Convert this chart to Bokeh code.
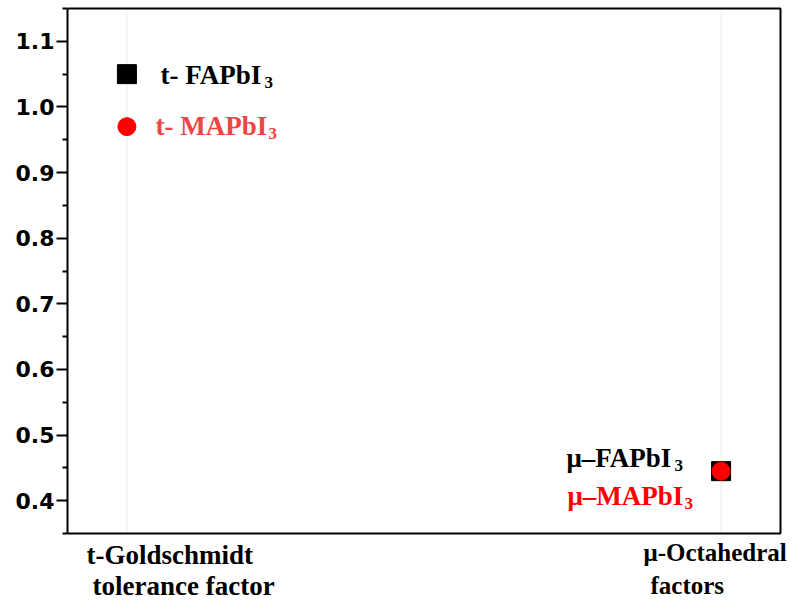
from bokeh.plotting import figure
from bokeh.models import FixedTicker, Label, Range1d, NumeralTickFormatter, ColumnDataSource
from bokeh.embed import file_html
from bokeh.resources import INLINE

# Structural parameters of the two perovskites
factor_pos = [1, 2]                      # 1: tolerance factor, 2: octahedral factor
fapbi3_values = [1.05, 0.445]
mapbi3_values = [0.97, 0.445]
y_ticks = [0.4, 0.5, 0.6, 0.7, 0.8, 0.9, 1.0, 1.1]
y_minor = [0.35, 0.45, 0.55, 0.65, 0.75, 0.85, 0.95, 1.05, 1.15]
factor_names = [["t-Goldschmidt", "tolerance factor"], ["\u03bc-Octahedral", "factors"]]

W, H = 792, 600
# axes box in pixels (left, right, top, bottom) and its data extent
BOX_L, BOX_R, BOX_T, BOX_B = 67, 780, 8, 533
XB0, XB1 = 0.9, 2.1
YB0, YB1 = 0.35, 1.15
# the plotting frame extends to the page edges so the factor names fit inside it
FR_L, FR_R, FR_T, FR_B = 67, 792, 4, 600
# Label baselines land a little below the anchor; lift them by this much
LIFT = 8

sx = (XB1 - XB0) / (BOX_R - BOX_L)
sy = (YB1 - YB0) / (BOX_B - BOX_T)


def dx(px):
    return XB0 + (px - BOX_L) * sx


def dy(py):
    return YB0 + (BOX_B - py) * sy


p = figure(width=W, height=H, output_backend="svg", toolbar_location=None,
           x_range=Range1d(dx(FR_L), dx(FR_R)), y_range=Range1d(dy(FR_B), dy(FR_T)),
           min_border_left=FR_L, min_border_right=W - FR_R, min_border_top=FR_T,
           min_border_bottom=H - FR_B)
p.background_fill_color = "white"
p.border_fill_color = "white"
p.outline_line_color = None
p.xgrid.visible = False
p.ygrid.visible = False
p.xaxis.visible = False

yax = p.yaxis[0]
yax.bounds = (YB0, YB1)
yax.ticker = FixedTicker(ticks=y_ticks, minor_ticks=y_minor)
yax.formatter = NumeralTickFormatter(format="0.0")
yax.axis_line_width = 2
yax.major_tick_line_width = 2
yax.minor_tick_line_width = 2
yax.major_tick_out = 11
yax.major_tick_in = 0
yax.minor_tick_out = 5
yax.minor_tick_in = 0
yax.major_label_standoff = 2
yax.major_label_text_font = "DejaVu Sans"
yax.major_label_text_font_style = "bold"
yax.major_label_text_font_size = "22px"
yax.major_label_text_color = "black"

# faint vertical guides at each factor
p.segment(x0=factor_pos, y0=[YB0] * 2, x1=factor_pos, y1=[YB1] * 2,
          line_color="#ececec", line_width=1)

# bottom, right and top edges of the axes box
p.line([XB0, XB1, XB1, XB0], [YB0, YB0, YB1, YB1], line_color="black", line_width=2)

src = ColumnDataSource(dict(x=factor_pos, fa=fapbi3_values, ma=mapbi3_values))
p.scatter("x", "fa", source=src, marker="square", size=19,
          fill_color="black", line_color="black")
p.scatter("x", "ma", source=src, marker="circle", size=18,
          fill_color="#ff0000", line_color="#ff0000")


def put(text, px, py, size, color="black"):
    p.add_layout(Label(x=dx(px), y=dy(py - LIFT), text=text, text_font="Liberation Serif",
                       text_font_style="bold", text_font_size=size,
                       text_color=color, text_baseline="alphabetic",
                       text_align="left"))


# series labels with subscripts
put("t- FAPbI", 160, 82, "27px")
put("3", 264, 90, "17px")
put("t- MAPbI", 155, 133, "27px", "#f04545")
put("3", 268, 141, "17px", "#f04545")
put("\u03bc\u2013FAPbI", 566, 465, "27px")
put("3", 674, 473, "17px")
put("\u03bc\u2013MAPbI", 567, 503, "27px", "#ff0000")
put("3", 684, 511, "17px", "#ff0000")

# factor names below the axes box
put(factor_names[0][0], 86, 562, "27px")
put(factor_names[0][1], 92, 593, "27px")
put(factor_names[1][0], 643, 560, "25px")
put(factor_names[1][1], 650, 593, "25px")

open("out.html", "w").write(file_html(p, INLINE))
